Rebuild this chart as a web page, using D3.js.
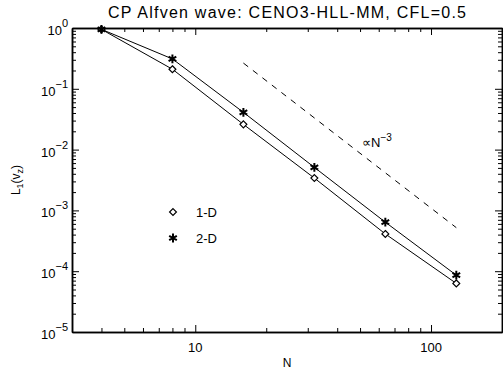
<!DOCTYPE html>
<html>
<head>
<meta charset="utf-8">
<script src="https://cdn.jsdelivr.net/npm/d3@7"></script>
<style>
  body { margin: 0; background: #fff; }
  text { font-family: "Liberation Sans", Arial, sans-serif; fill: #000; }
</style>
</head>
<body>
<div id="chart"></div>
<script>
const gridN = [4, 8, 16, 32, 64, 128];
const err1D = [0.95, 0.21, 0.026, 0.0034, 0.00041, 0.000063];
const err2D = [0.95, 0.31, 0.041, 0.0051, 0.00064, 0.000086];
const refN = [16, 128];
const refErr = [0.265, 0.00052];
const yDecades = [0, -1, -2, -3, -4, -5];
const xMajor = [10, 100];
const titleText = "CP Alfven wave: CENO3-HLL-MM, CFL=0.5";

const width = 503,
  height = 373;
const mLeft = 72,
  mRight = 502,
  mTop = 28,
  mBottom = 332;

const svg = d3
  .select("#chart")
  .append("svg")
  .attr("width", width)
  .attr("height", height);

const x = d3.scaleLog().domain([3, 200]).range([mLeft, mRight]);
const y = d3.scaleLog().domain([1e-5, 1]).range([mBottom, mTop]);

// minor tick values
const xMinor = [];
[1, 10, 100].forEach((p) => {
  for (let k = 2; k <= 9; k++) {
    const v = k * p;
    if (v >= 3 && v <= 200) xMinor.push(v);
  }
});
const yMinor = [];
for (let e = -5; e < 0; e++) {
  for (let k = 2; k <= 9; k++) yMinor.push(k * Math.pow(10, e));
}
const yMajorVals = yDecades.map((e) => Math.pow(10, e));

function axisGroup(axis, tx, ty) {
  const g = svg
    .append("g")
    .attr("transform", `translate(${tx},${ty})`)
    .call(axis);
  g.selectAll("text").remove();
  g.select(".domain").attr("stroke-width", 1.5);
  g.selectAll(".tick line").attr("stroke-width", 1);
  return g;
}

// bottom & top
axisGroup(d3.axisTop(x).tickValues(xMajor).tickSize(7).tickSizeOuter(0), 0, mBottom);
axisGroup(d3.axisTop(x).tickValues(xMinor).tickSize(4).tickSizeOuter(0), 0, mBottom);
axisGroup(d3.axisBottom(x).tickValues(xMajor).tickSize(7).tickSizeOuter(0), 0, mTop);
axisGroup(d3.axisBottom(x).tickValues(xMinor).tickSize(4).tickSizeOuter(0), 0, mTop);
// left & right
axisGroup(d3.axisRight(y).tickValues(yMajorVals).tickSize(7).tickSizeOuter(0), mLeft, 0);
axisGroup(d3.axisRight(y).tickValues(yMinor).tickSize(4).tickSizeOuter(0), mLeft, 0);
axisGroup(d3.axisLeft(y).tickValues(yMajorVals).tickSize(7).tickSizeOuter(0), mRight, 0);
axisGroup(d3.axisLeft(y).tickValues(yMinor).tickSize(4).tickSizeOuter(0), mRight, 0);

// x tick labels
svg
  .selectAll(".xlab")
  .data(xMajor)
  .enter()
  .append("text")
  .attr("x", (d) => x(d))
  .attr("y", mBottom + 20)
  .attr("text-anchor", "middle")
  .attr("font-size", 13)
  .text((d) => d);

// y tick labels 10^n
yDecades.forEach((e) => {
  const t = svg
    .append("text")
    .attr("x", mLeft - 4)
    .attr("y", y(Math.pow(10, e)) + 7)
    .attr("text-anchor", "end")
    .attr("font-size", 13);
  t.append("tspan").text("10");
  t.append("tspan")
    .attr("dy", -8)
    .attr("font-size", 11)
    .text(e === 0 ? "0" : "\u2212" + Math.abs(e));
});

// title and axis titles
svg
  .append("text")
  .attr("x", (mLeft + mRight) / 2)
  .attr("y", 18)
  .attr("text-anchor", "middle")
  .attr("font-size", 16)
  .attr("textLength", 358)
  .attr("lengthAdjust", "spacing")
  .text(titleText);

svg
  .append("text")
  .attr("x", (mLeft + mRight) / 2)
  .attr("y", 367)
  .attr("text-anchor", "middle")
  .attr("font-size", 12)
  .text("N");

const yl = svg
  .append("text")
  .attr("transform", `translate(20,180) rotate(-90)`)
  .attr("text-anchor", "middle")
  .attr("font-size", 12);
yl.append("tspan").text("L");
yl.append("tspan").attr("dy", 3).attr("font-size", 9).text("1");
yl.append("tspan").attr("dy", -3).text("(v");
yl.append("tspan").attr("dy", 3).attr("font-size", 9).text("z");
yl.append("tspan").attr("dy", -3).text(")");

// series lines
const line = d3
  .line()
  .x((d) => x(d[0]))
  .y((d) => y(d[1]));

const s1 = d3.zip(gridN, err1D);
const s2 = d3.zip(gridN, err2D);

[s1, s2].forEach((s) => {
  svg
    .append("path")
    .datum(s)
    .attr("d", line)
    .attr("fill", "none")
    .attr("stroke", "#000")
    .attr("stroke-width", 1);
});

// reference slope
svg
  .append("path")
  .datum(d3.zip(refN, refErr))
  .attr("d", line)
  .attr("fill", "none")
  .attr("stroke", "#000")
  .attr("stroke-width", 1)
  .attr("stroke-dasharray", "6,6");

const ann = svg
  .append("text")
  .attr("x", 362)
  .attr("y", 147)
  .attr("font-size", 13);
ann.append("tspan").text("\u221dN");
ann.append("tspan").attr("dy", -6).attr("font-size", 10).text("\u22123");

// markers
const diamond = d3.symbol().type(d3.symbolDiamond2).size(30);
const star = d3.symbol().type(d3.symbolAsterisk).size(55);

svg
  .selectAll(".m1")
  .data(s1)
  .enter()
  .append("path")
  .attr("transform", (d) => `translate(${x(d[0])},${y(d[1])})`)
  .attr("d", diamond)
  .attr("fill", "#fff")
  .attr("stroke", "#000")
  .attr("stroke-width", 1.2);

svg
  .selectAll(".m2")
  .data(s2)
  .enter()
  .append("path")
  .attr("transform", (d) => `translate(${x(d[0])},${y(d[1])})`)
  .attr("d", star)
  .attr("fill", "none")
  .attr("stroke", "#000")
  .attr("stroke-width", 2);

// legend
svg
  .append("path")
  .attr("transform", "translate(173,212)")
  .attr("d", diamond)
  .attr("fill", "#fff")
  .attr("stroke", "#000")
  .attr("stroke-width", 1.2);
svg
  .append("text")
  .attr("x", 196)
  .attr("y", 217)
  .attr("font-size", 13)
  .text("1-D");
svg
  .append("path")
  .attr("transform", "translate(173,238)")
  .attr("d", star)
  .attr("fill", "none")
  .attr("stroke", "#000")
  .attr("stroke-width", 2);
svg
  .append("text")
  .attr("x", 196)
  .attr("y", 243)
  .attr("font-size", 13)
  .text("2-D");
</script>
</body>
</html>
